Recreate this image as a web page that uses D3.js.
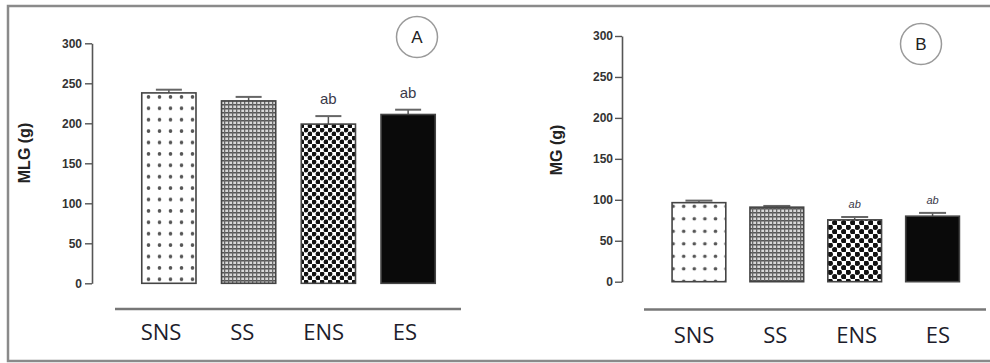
<!DOCTYPE html>
<html lang="en">
<head>
<meta charset="utf-8">
<script src="https://d3js.org/d3.v7.min.js"></script>
<style>
  * { margin: 0; padding: 0; }
  body { background: #fff; width: 990px; height: 363px; overflow: hidden; }
  .tick text { font-family: "Liberation Sans", Arial, sans-serif; font-weight: bold; fill: #333; }
  .cat { font-family: "Open Sans", "Liberation Sans", sans-serif; fill: #1d1d2b; }
  .ytitle { font-family: "Liberation Sans", Arial, sans-serif; font-weight: bold; fill: #222; }
</style>
</head>
<body>
<script>
// groups
const categories = ['SNS', 'SS', 'ENS', 'ES'];
const yTicks = [0, 50, 100, 150, 200, 250, 300];

// panel A : MLG (g)
const mlgMeans = [238, 228, 199, 211];
const mlgErrors = [4, 5, 10, 6];
const mlgLetters = ['', '', 'ab', 'ab'];

// panel B : MG (g)
const mgMeans = [96.5, 91, 75.5, 80];
const mgErrors = [2.5, 1.5, 3.5, 4];
const mgLetters = ['', '', 'ab', 'ab'];

const W = 990, H = 363;

const svg = d3.select('body').append('svg')
  .attr('width', W)
  .attr('height', H);

const defs = svg.append('defs');

// fill patterns, one set per panel (the two panels have slightly different scale)
function makePatterns(id, dotDx, dotDy, checker) {
  const dots = defs.append('pattern')
    .attr('id', 'dots' + id)
    .attr('patternUnits', 'userSpaceOnUse')
    .attr('width', dotDx).attr('height', dotDy);
  dots.append('rect').attr('width', dotDx).attr('height', dotDy).attr('fill', '#fff');
  dots.append('circle').attr('cx', dotDx / 2).attr('cy', dotDy / 2).attr('r', 1.8).attr('fill', '#555');

  const grid = defs.append('pattern')
    .attr('id', 'grid' + id)
    .attr('patternUnits', 'userSpaceOnUse')
    .attr('width', 4).attr('height', 4);
  grid.append('rect').attr('width', 4).attr('height', 4).attr('fill', '#d8d8d8');
  grid.append('rect').attr('x', 0).attr('y', 0).attr('width', 4).attr('height', 1.5).attr('fill', '#555');
  grid.append('rect').attr('x', 0).attr('y', 0).attr('width', 1.3).attr('height', 4).attr('fill', '#666');

  const chk = defs.append('pattern')
    .attr('id', 'chk' + id)
    .attr('patternUnits', 'userSpaceOnUse')
    .attr('width', checker).attr('height', checker);
  chk.append('rect').attr('width', checker).attr('height', checker).attr('fill', '#fff');
  chk.append('circle').attr('cx', checker / 4).attr('cy', checker / 4).attr('r', checker * 0.3).attr('fill', '#111');
  chk.append('circle').attr('cx', checker * 3 / 4).attr('cy', checker * 3 / 4).attr('r', checker * 0.3).attr('fill', '#111');
}
makePatterns('A', 11, 11.4, 8);
makePatterns('B', 10.6, 12.5, 9);

// outer frame
svg.append('rect')
  .attr('x', 8).attr('y', 6)
  .attr('width', 1000).attr('height', 355)
  .attr('fill', 'none')
  .attr('stroke', '#8a8a8a')
  .attr('stroke-width', 2.5);

const panels = [
  {
    id: 'A', title: 'MLG (g)', means: mlgMeans, errors: mlgErrors, letters: mlgLetters,
    axisX: 92, yRange: [283.3, 43.3], barRange: [129, 448], pad: 0.32,
    capW: 26, lineX: [115, 461], lineY: 309, labelRange: [161, 405], labelY: 340,
    titleX: 30, titleY: 153, circle: [417, 37], letterSize: 15, letterStyle: 'normal', letterGap: 12,
    padTick: 3
  },
  {
    id: 'B', title: 'MG (g)', means: mgMeans, errors: mgErrors, letters: mgLetters,
    axisX: 622, yRange: [281.7, 36], barRange: [660, 971.5], pad: 0.31,
    capW: 27, lineX: [644, 986], lineY: 309.5, labelRange: [694, 938], labelY: 343,
    titleX: 562, titleY: 150, circle: [921, 44], letterSize: 11, letterStyle: 'italic', letterGap: 9,
    padTick: 2
  }
];

const fills = id => ['url(#dots' + id + ')', 'url(#grid' + id + ')', 'url(#chk' + id + ')', '#0a0a0a'];

panels.forEach(p => {
  const g = svg.append('g').attr('id', 'panel' + p.id);

  const y = d3.scaleLinear().domain([0, 300]).range(p.yRange);
  const x = d3.scaleBand()
    .domain(categories)
    .range(p.barRange)
    .paddingInner(p.pad)
    .paddingOuter(p.pad / 2);
  const xl = d3.scalePoint().domain(categories).range(p.labelRange);

  // y axis
  const ax = g.append('g')
    .attr('transform', `translate(${p.axisX},0)`)
    .call(d3.axisLeft(y).tickValues(yTicks).tickSize(7).tickSizeOuter(0).tickPadding(p.padTick));
  ax.selectAll('text').style('font-size', '12px');
  ax.select('.domain').attr('stroke', '#555').attr('stroke-width', 1.6);
  ax.selectAll('.tick line').attr('stroke', '#555').attr('stroke-width', 1.4);

  g.append('text')
    .attr('class', 'ytitle')
    .attr('transform', `translate(${p.titleX},${p.titleY}) rotate(-90)`)
    .attr('text-anchor', 'middle')
    .style('font-size', '16px')
    .text(p.title);

  const data = categories.map((c, i) => ({ c, m: p.means[i], e: p.errors[i], l: p.letters[i], f: fills(p.id)[i] }));

  // error bars
  const eb = g.selectAll('.err').data(data).enter().append('g').attr('class', 'err');
  eb.append('line')
    .attr('x1', d => x(d.c) + x.bandwidth() / 2)
    .attr('x2', d => x(d.c) + x.bandwidth() / 2)
    .attr('y1', d => y(d.m))
    .attr('y2', d => y(d.m + d.e))
    .attr('stroke', '#555').attr('stroke-width', 1.5);
  eb.append('line')
    .attr('x1', d => x(d.c) + x.bandwidth() / 2 - p.capW / 2)
    .attr('x2', d => x(d.c) + x.bandwidth() / 2 + p.capW / 2)
    .attr('y1', d => y(d.m + d.e))
    .attr('y2', d => y(d.m + d.e))
    .attr('stroke', '#666').attr('stroke-width', 2);

  // bars
  g.selectAll('.bar').data(data).enter().append('rect')
    .attr('class', 'bar')
    .attr('x', d => x(d.c))
    .attr('y', d => y(d.m))
    .attr('width', x.bandwidth())
    .attr('height', d => y(0) - y(d.m))
    .attr('fill', d => d.f)
    .attr('stroke', '#444')
    .attr('stroke-width', 1.6);

  // significance letters
  g.selectAll('.sig').data(data.filter(d => d.l)).enter().append('text')
    .attr('class', 'sig')
    .attr('x', d => x(d.c) + x.bandwidth() / 2)
    .attr('y', d => y(d.m + d.e) - p.letterGap)
    .attr('text-anchor', 'middle')
    .style('font-family', '"Liberation Sans", Arial, sans-serif')
    .style('font-size', p.letterSize + 'px')
    .style('font-style', p.letterStyle)
    .style('fill', '#3a3a4a')
    .text(d => d.l);

  // separator line and group labels
  g.append('line')
    .attr('x1', p.lineX[0]).attr('x2', p.lineX[1])
    .attr('y1', p.lineY).attr('y2', p.lineY)
    .attr('stroke', '#777').attr('stroke-width', 2.5);

  g.selectAll('.cat').data(categories).enter().append('text')
    .attr('class', 'cat')
    .attr('x', d => xl(d))
    .attr('y', p.labelY)
    .attr('text-anchor', 'middle')
    .style('font-size', '22px')
    .text(d => d);

  // circled panel letter
  g.append('circle')
    .attr('cx', p.circle[0]).attr('cy', p.circle[1]).attr('r', 20.5)
    .attr('fill', 'none').attr('stroke', '#9a9a9a').attr('stroke-width', 1.5);
  g.append('text')
    .attr('x', p.circle[0]).attr('y', p.circle[1] + 6)
    .attr('text-anchor', 'middle')
    .style('font-family', '"Liberation Sans", Arial, sans-serif')
    .style('font-size', '17px')
    .style('fill', '#222')
    .text(p.id);
});
</script>
</body>
</html>
